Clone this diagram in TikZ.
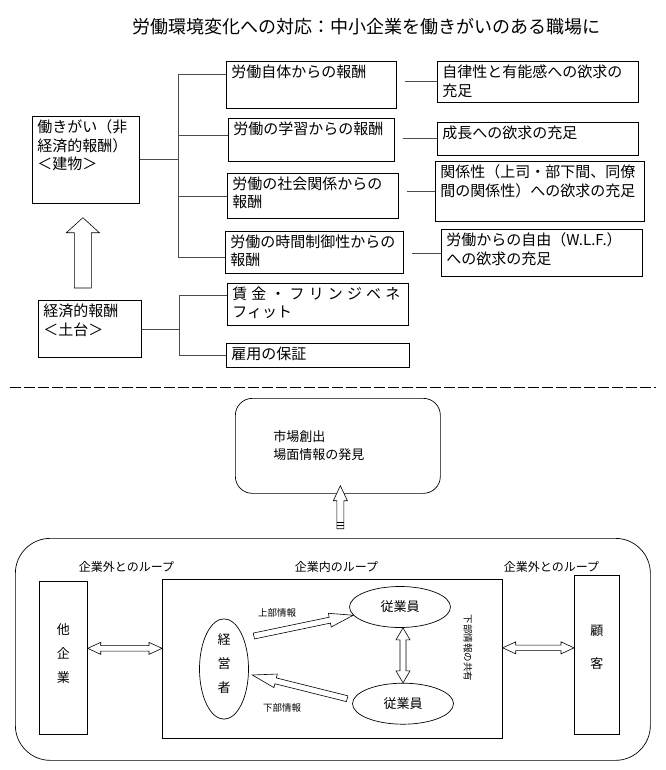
\documentclass[tikz,border=0pt]{standalone}
\usepackage{fontspec}
\setmainfont{Noto Sans CJK JP}
\usepackage{tikz}
\usetikzlibrary{calc,positioning,shapes.geometric}

\newcommand\cell[3]{\parbox[c][#2][t]{#1}{\raggedright #3}}
% hollow block arrows: tail, tip, half shaft, half head, head length
\newcommand\onearrow[5]{%
  \draw[blk] ($(#1)!#3!90:(#2)$) -- ($(#2)!#5!(#1)!#3!90:(#2)$) -- ($(#2)!#5!(#1)!#4!90:(#2)$) -- (#2)
    -- ($(#2)!#5!(#1)!#4!-90:(#2)$) -- ($(#2)!#5!(#1)!#3!-90:(#2)$) -- ($(#1)!#3!-90:(#2)$) -- cycle;}
\newcommand\twoarrow[5]{%
  \draw[blk] (#1) -- ($(#1)!#5!(#2)!#4!90:(#2)$) -- ($(#1)!#5!(#2)!#3!90:(#2)$) -- ($(#2)!#5!(#1)!#3!90:(#2)$)
    -- ($(#2)!#5!(#1)!#4!90:(#2)$) -- (#2) -- ($(#2)!#5!(#1)!#4!-90:(#2)$) -- ($(#2)!#5!(#1)!#3!-90:(#2)$)
    -- ($(#1)!#5!(#2)!#3!-90:(#2)$) -- ($(#1)!#5!(#2)!#4!-90:(#2)$) -- cycle;}

\begin{document}
\begin{tikzpicture}[x=1pt,y=-1pt,
  rew/.style={draw, anchor=north west, inner xsep=5pt, inner ysep=3.5pt, line width=0.7pt, font=\fontsize{15}{18.5}\selectfont},
  con/.style={draw=black!70, line width=0.7pt},
  blk/.style={draw, fill=white, line width=0.6pt},
  frm/.style={draw, anchor=north west, inner sep=0pt, line width=0.7pt},
  emp/.style={draw, ellipse, minimum width=101pt, minimum height=41pt, inner sep=0pt, line width=0.7pt, font=\fontsize{13}{15}\selectfont},
  lbl/.style={font=\fontsize{12}{14}\selectfont},
  sml/.style={font=\fontsize{9.5}{11}\selectfont}]
  \useasboundingbox (0,0) rectangle (665,770);
  \node[font=\fontsize{18}{20}\selectfont] (title) at (366,27) {労働環境変化への対応：中小企業を働きがいのある職場に};

  % upper half: rewards
  \node[rew] (work) at (32,116) {\cell{97pt}{80pt}{働きがい（非\\経済的報酬）\\＜建物＞}};
  \node[rew] (r1) at (226,61) {\cell{160pt}{40pt}{労働自体からの報酬}};
  \node[rew] (n1) at (437,61) {\cell{191pt}{34pt}{自律性と有能感への欲求の\\充足}};
  \node[rew] (r2) at (228,118) {\cell{156pt}{36pt}{労働の学習からの報酬}};
  \node[rew] (n2) at (437,122) {\cell{191pt}{26pt}{成長への欲求の充足}};
  \node[rew] (r3) at (227,173) {\cell{161pt}{38pt}{労働の社会関係からの\\報酬}};
  \node[rew] (n3) at (435,161) {\cell{199pt}{53pt}{関係性（上司・部下間、同僚\\間の関係性）への欲求の充足}};
  \node[rew] (r4) at (225,231) {\cell{168pt}{35pt}{労働の時間制御性からの\\報酬}};
  \node[rew] (n4) at (441,229) {\cell{191pt}{40pt}{労働からの自由（W.L.F.）\\への欲求の充足}};
  \node[rew] (base) at (38,300) {\cell{93pt}{50pt}{経済的報酬\\＜土台＞}};
  \node[rew] (wage) at (227,283) {\cell{171pt}{35pt}{\makebox[168pt][s]{賃 金 ・ フ リ ン ジ ベ ネ}\\フィット}};
  \node[rew] (job) at (226,343) {\cell{173pt}{17pt}{雇用の保証}};

  \coordinate (sp) at (178,0);
  \draw[con] (work.east) -- (work.east -| sp);
  \draw[con] ($(sp |- r1.north west)+(0,13)$) -- ($(sp |- r4.north west)+(0,26)$);
  \foreach \r/\d in {r1/13,r2/17,r3/23,r4/26}
    \draw[con] ($(\r.north west)+(0,\d)$) -- ($(sp |- \r.north west)+(0,\d)$);
  \foreach \r/\n in {r1/n1,r2/n2,r3/n3,r4/n4}
    \draw[con] ($(\r.east |- \n.west)+(8,0)$) -- (\n.west);

  \coordinate (sp2) at (179,0);
  \draw[con] (base.east) -- (base.east -| sp2);
  \draw[con] ($(wage.north west)+(0,12)$) -- ($(sp2 |- wage.north west)+(0,12)$) -- (sp2 |- job.west) -- (job.west);

  \coordinate (upS) at ($(base.north)+(-7,-12)$);
  \coordinate (upE) at ($(upS |- work.south)+(0,14)$);
  \onearrow{upS}{upE}{8.5pt}{16.5pt}{15pt}

  \draw[dash pattern=on 11pt off 3pt, line width=0.8pt] (10,387) -- (656,387);

  % lower half: loops
  \node[frm, rounded corners=17pt, minimum width=205pt, minimum height=95pt, text width=129pt, inner xsep=38pt, align=left, font=\fontsize{13}{18}\selectfont] (market) at (235,398) {市場創出\\場面情報の発見};
  \coordinate (mkE) at ($(market.south)+(2.5,-8)$);
  \coordinate (mkS) at ($(mkE)+(0,43)$);
  \onearrow{mkS}{mkE}{3.5pt}{7pt}{15pt}
  \draw ($(mkS)+(-3.5,-4)$) -- +(7,0);
  \draw ($(mkS)+(-3.5,-7)$) -- +(7,0);

  \node[frm, rounded corners=35pt, minimum width=635pt, minimum height=222pt] (loop) at (15,538) {};
  \node[frm, minimum width=340pt, minimum height=159pt] (inside) at (162,579) {};
  \node[frm, minimum width=48pt, minimum height=153pt, align=center, font=\fontsize{13}{24}\selectfont] (firm) at (39,581) {他\\企\\業\\[-14pt]\mbox{}};
  \node[frm, minimum width=45pt, minimum height=159pt, align=center, font=\fontsize{13}{33}\selectfont] (cust) at (574,575) {顧\\客\\[-17pt]\mbox{}};
  \node[draw, ellipse, minimum width=49pt, minimum height=98pt, inner sep=0pt, line width=0.7pt, align=center, font=\fontsize{13}{24}\selectfont] (mgr) at (224,669) {経\\営\\者\\[-12pt]\mbox{}};
  \node[emp] (emp1) at (400,607) {従業員};
  \node[emp, below=55pt of emp1, xshift=3pt] (emp2) {従業員};

  \node[lbl] (outL) at (126.5,567) {企業外とのループ};
  \node[lbl] (inL) at (336.5,567) {企業内のループ};
  \node[lbl] (outR) at (551.5,567) {企業外とのループ};
  \node[sml] (topinfo) at (277,613) {上部情報};
  \node[sml] (botinfo) at (282,708) {下部情報};
  \node[sml, rotate=-90] (share) at (468,648) {下部情報の共有};

  \coordinate (fa) at ($(firm.east)+(0,-9.5)$);
  \coordinate (fb) at (inside.west |- fa);
  \twoarrow{fa}{fb}{2.7pt}{6pt}{13pt}
  \coordinate (ca) at ($(inside.east)+(0,-11)$);
  \coordinate (cb) at (cust.west |- ca);
  \twoarrow{ca}{cb}{2.7pt}{6pt}{13pt}
  \coordinate (ea) at (emp2.north |- emp1.south);
  \twoarrow{ea}{emp2.north}{3pt}{7pt}{12pt}
  \coordinate (ua) at ($(mgr.east)+(5,-33)$);
  \onearrow{ua}{emp1.190}{3pt}{7pt}{24pt}
  \coordinate (da) at ($(emp2.west)+(-5,-5)$);
  \coordinate (db) at ($(mgr.east)+(3.5,6)$);
  \onearrow{da}{db}{3pt}{7pt}{24pt}
\end{tikzpicture}
\end{document}
